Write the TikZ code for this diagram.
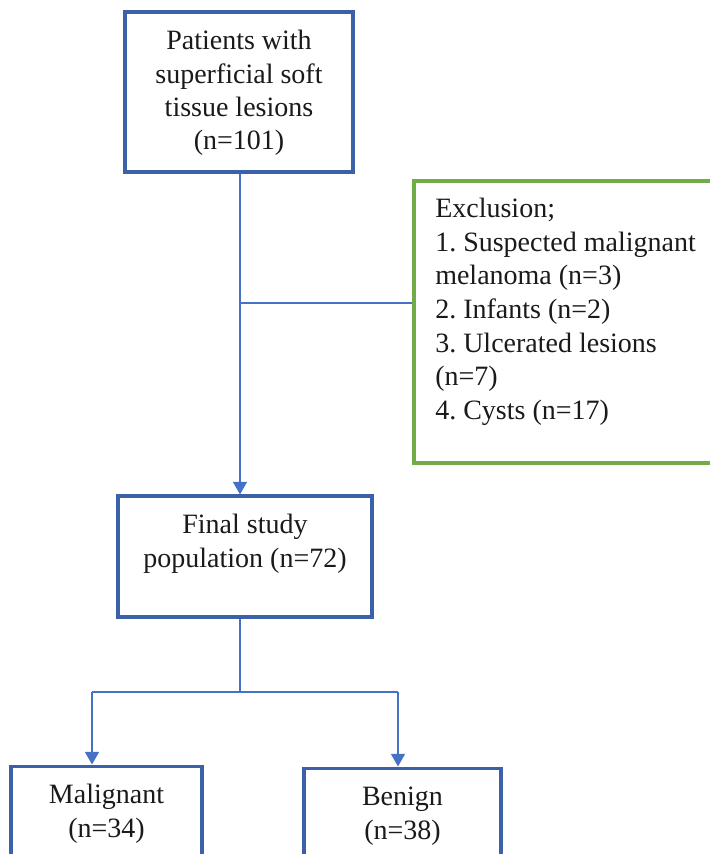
\documentclass[tikz,border=0pt]{standalone}
\usepackage{fontspec}
\setmainfont{Liberation Serif}
\usetikzlibrary{arrows.meta}
\definecolor{boxblue}{HTML}{3B62A8}
\definecolor{lineblue}{HTML}{4472C4}
\definecolor{boxgreen}{HTML}{70AD47}
\definecolor{txtcol}{HTML}{1A1A1A}
\frenchspacing
\tikzset{
  bluebox/.style={draw=boxblue, line width=2.3pt, inner sep=0pt, fill=white},
  greenbox/.style={draw=boxgreen, line width=2.3pt, inner sep=0pt, fill=white},
  txt/.style={font=\fontsize{21}{25}\selectfont, text=txtcol, align=center, inner sep=0pt},
  ltxt/.style={font=\fontsize{21}{25.2}\selectfont, text=txtcol, align=left, inner sep=0pt},
  conn/.style={draw=lineblue, line width=1.2pt},
  arr/.style={conn, -{Triangle[width=10.5pt,length=9.5pt]}}
}
\begin{document}
\begin{tikzpicture}[x=0.75pt,y=-0.75pt]
\useasboundingbox (0,0) rectangle (710,854);
\clip (0,0) rectangle (710,854);
\fill[white] (0,0) rectangle (710,854);

% boxes
\node[bluebox, minimum width=171pt, minimum height=120pt] (top) at (239,92) {};
\node[greenbox, minimum width=259.5pt, minimum height=211.5pt] (excl) at (587,322) {};
\node[bluebox, minimum width=190.5pt, minimum height=90.75pt] (final) at (245,556.5) {};
\node[bluebox, minimum width=143.25pt, minimum height=100pt] (mal) at (106.5,832.7) {};
\node[bluebox, minimum width=147.75pt, minimum height=100pt] (ben) at (402.5,834.7) {};

% texts
\node[txt] (toptxt) at (239,93) {Patients with\\superficial soft\\tissue lesions\\(n=101)};
\node[ltxt, anchor=north west] (excltxt) at (435,198) {Exclusion;\\1. Suspected malignant\\melanoma (n=3)\\2. Infants (n=2)\\3. Ulcerated lesions\\(n=7)\\4. Cysts (n=17)};
\node[txt, anchor=north] (finaltxt) at (245,514) {Final study\\population (n=72)};
\node[txt, anchor=north] (maltxt) at (106.5,784) {Malignant\\(n=34)};
\node[txt, anchor=north] (bentxt) at (402.5,787) {Benign\\(n=38)};

% connectors
\coordinate (j) at (240,303);
\coordinate (k) at (240,692);
\coordinate (ml) at (92,692);
\coordinate (bl) at (398,692);
\draw[arr] (top.south -| j) -- (j |- final.north);
\draw[conn] (j) -- (j -| excl.west);
\draw[conn] (final.south -| k) -- (k);
\draw[conn] (ml) -- (bl);
\draw[arr] (ml) -- (ml |- mal.north);
\draw[arr] (bl) -- (bl |- ben.north);
\end{tikzpicture}
\end{document}
